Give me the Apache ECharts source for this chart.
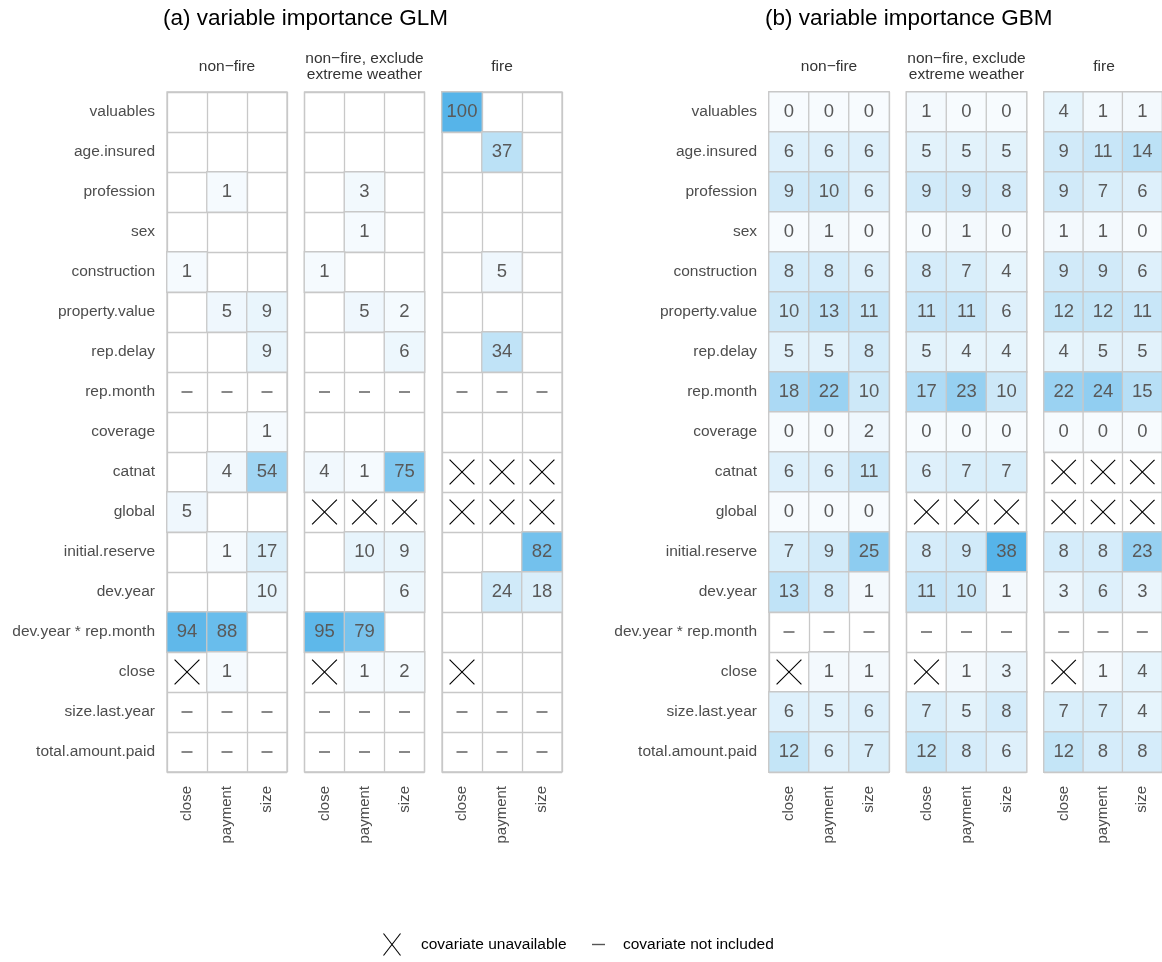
<!DOCTYPE html>
<html>
<head>
<meta charset="utf-8">
<script src="https://cdn.jsdelivr.net/npm/echarts@6/dist/echarts.min.js"></script>
<style>html,body{margin:0;padding:0;background:#fff;}#chart{width:1162px;height:962px;}</style>
</head>
<body>
<div id="chart"></div>
<script>
// ---- data ----
const rows = ['valuables','age.insured','profession','sex','construction','property.value','rep.delay','rep.month','coverage','catnat','global','initial.reserve','dev.year','dev.year * rep.month','close','size.last.year','total.amount.paid'];
const cols = ['close','payment','size'];
const facetNames = ['non\u2212fire', 'non\u2212fire, exclude\nextreme weather', 'fire'];
const panelTitles = ['(a) variable importance GLM', '(b) variable importance GBM'];
const legendLabels = ['covariate unavailable', 'covariate not included'];
// null = blank, 'X' = covariate unavailable, '-' = covariate not included
const glmNonFire = [
  [null,null,null],[null,null,null],[null,1,null],[null,null,null],[1,null,null],
  [null,5,9],[null,null,9],['-','-','-'],[null,null,1],[null,4,54],[5,null,null],
  [null,1,17],[null,null,10],[94,88,null],['X',1,null],['-','-','-'],['-','-','-']
];
const glmNonFireExcl = [
  [null,null,null],[null,null,null],[null,3,null],[null,1,null],[1,null,null],
  [null,5,2],[null,null,6],['-','-','-'],[null,null,null],[4,1,75],['X','X','X'],
  [null,10,9],[null,null,6],[95,79,null],['X',1,2],['-','-','-'],['-','-','-']
];
const glmFire = [
  [100,null,null],[null,37,null],[null,null,null],[null,null,null],[null,5,null],
  [null,null,null],[null,34,null],['-','-','-'],[null,null,null],['X','X','X'],['X','X','X'],
  [null,null,82],[null,24,18],[null,null,null],['X',null,null],['-','-','-'],['-','-','-']
];
const gbmNonFire = [
  [0,0,0],[6,6,6],[9,10,6],[0,1,0],[8,8,6],[10,13,11],[5,5,8],[18,22,10],[0,0,2],
  [6,6,11],[0,0,0],[7,9,25],[13,8,1],['-','-','-'],['X',1,1],[6,5,6],[12,6,7]
];
const gbmNonFireExcl = [
  [1,0,0],[5,5,5],[9,9,8],[0,1,0],[8,7,4],[11,11,6],[5,4,4],[17,23,10],[0,0,0],
  [6,7,7],['X','X','X'],[8,9,38],[11,10,1],['-','-','-'],['X',1,3],[7,5,8],[12,8,6]
];
const gbmFire = [
  [4,1,1],[9,11,14],[9,7,6],[1,1,0],[9,9,6],[12,12,11],[4,5,5],[22,24,15],[0,0,0],
  ['X','X','X'],['X','X','X'],[8,8,23],[3,6,3],['-','-','-'],['X',1,4],[7,7,4],[12,8,8]
];
const panels = [[glmNonFire, glmNonFireExcl, glmFire],[gbmNonFire, gbmNonFireExcl, gbmFire]];
const panelMax = [100, 38];

// ---- layout ----
const FONT = '"Liberation Sans", Arial, Helvetica, sans-serif';
const gridTop = 92, gridH = 680, facetW = 120;
const facetLeft = [[167, 304.5, 442], [769, 906.5, 1044]];
const titleLeft = [163, 765];
const lineColor = '#c8c8c8';

const grids = [], xAxes = [], yAxes = [], series = [], titles = [], visualMaps = [];
const heatIdx = [[], []];

panels.forEach((facets, p) => {
  titles.push({text: panelTitles[p], left: titleLeft[p], top: 7, padding: 0,
    textStyle: {fontFamily: FONT, fontSize: 22.5, fontWeight: 'normal', color: '#000'}});
  facets.forEach((tbl, f) => {
    const g = p * 3 + f;
    const L = facetLeft[p][f];
    grids.push({left: L, top: gridTop, width: facetW, height: gridH, show: true,
      borderColor: lineColor, borderWidth: 1.3, backgroundColor: '#fff', containLabel: false});
    titles.push({text: facetNames[f], left: L + facetW / 2, top: f === 1 ? 51 : 59, padding: 0,
      textAlign: 'center',
      textStyle: {fontFamily: FONT, fontSize: 15.5, fontWeight: 'normal', color: '#333', lineHeight: 16}});
    xAxes.push({type: 'category', gridIndex: g, data: cols, position: 'bottom',
      axisLine: {show: false}, axisTick: {show: false},
      axisLabel: {rotate: 90, margin: 14, interval: 0, fontSize: 15, color: '#4d4d4d', fontFamily: FONT},
      splitLine: {show: true, interval: 0, lineStyle: {color: lineColor, width: 1.3}}});
    yAxes.push({type: 'category', gridIndex: g, data: rows, inverse: true,
      axisLine: {show: false}, axisTick: {show: false},
      axisLabel: {show: f === 0, margin: 12, interval: 0, fontSize: 15.5, color: '#4d4d4d', fontFamily: FONT},
      splitLine: {show: true, interval: 0, lineStyle: {color: lineColor, width: 1.3}}});
    const nums = [], xs = [], dashes = [];
    tbl.forEach((r, ri) => r.forEach((v, ci) => {
      if (typeof v === 'number') nums.push([ci, ri, v]);
      else if (v === 'X') xs.push([ci, ri]);
      else if (v === '-') dashes.push([ci, ri]);
    }));
    heatIdx[p].push(series.length);
    series.push({type: 'heatmap', xAxisIndex: g, yAxisIndex: g, data: nums,
      itemStyle: {borderColor: lineColor, borderWidth: 1.3},
      label: {show: true, formatter: q => q.value[2], fontSize: 18.5, color: '#595959', fontFamily: FONT},
      emphasis: {disabled: true}});
    series.push({type: 'custom', xAxisIndex: g, yAxisIndex: g, data: xs, silent: true,
      renderItem: (params, api) => {
        const c = api.coord([api.value(0), api.value(1)]);
        const s = api.size([1, 1]);
        const h = s[0] * 0.31;
        return {type: 'group', children: [
          {type: 'line', shape: {x1: c[0]-h, y1: c[1]-h, x2: c[0]+h, y2: c[1]+h}, style: {stroke: '#000', lineWidth: 1.1}},
          {type: 'line', shape: {x1: c[0]-h, y1: c[1]+h, x2: c[0]+h, y2: c[1]-h}, style: {stroke: '#000', lineWidth: 1.1}}
        ]};
      }});
    series.push({type: 'custom', xAxisIndex: g, yAxisIndex: g, data: dashes, silent: true,
      renderItem: (params, api) => {
        const c = api.coord([api.value(0), api.value(1)]);
        return {type: 'line', shape: {x1: c[0]-5.5, y1: c[1], x2: c[0]+5.5, y2: c[1]},
          style: {stroke: '#555', lineWidth: 1.4}};
      }});
  });
  visualMaps.push({show: false, type: 'continuous', min: 0, max: panelMax[p], dimension: 2,
    seriesIndex: heatIdx[p], inRange: {color: ['#F7FBFE', '#56B4E9']}});
});

const chart = echarts.init(document.getElementById('chart'), null, {renderer: 'canvas'});
chart.setOption({
  animation: false,
  backgroundColor: '#fff',
  title: titles,
  grid: grids,
  xAxis: xAxes,
  yAxis: yAxes,
  visualMap: visualMaps,
  series: series,
  graphic: [
    {type: 'line', shape: {x1: 383.5, y1: 933.5, x2: 400.5, y2: 955.5}, style: {stroke: '#000', lineWidth: 1.1}},
    {type: 'line', shape: {x1: 383.5, y1: 955.5, x2: 400.5, y2: 933.5}, style: {stroke: '#000', lineWidth: 1.1}},
    {type: 'text', x: 421, y: 945, style: {text: legendLabels[0], fontFamily: FONT, fontSize: 15.5, fill: '#000', textVerticalAlign: 'middle'}},
    {type: 'line', shape: {x1: 592, y1: 944.5, x2: 605, y2: 944.5}, style: {stroke: '#555', lineWidth: 1.4}},
    {type: 'text', x: 623, y: 945, style: {text: legendLabels[1], fontFamily: FONT, fontSize: 15.5, fill: '#000', textVerticalAlign: 'middle'}}
  ]
});
</script>
</body>
</html>
